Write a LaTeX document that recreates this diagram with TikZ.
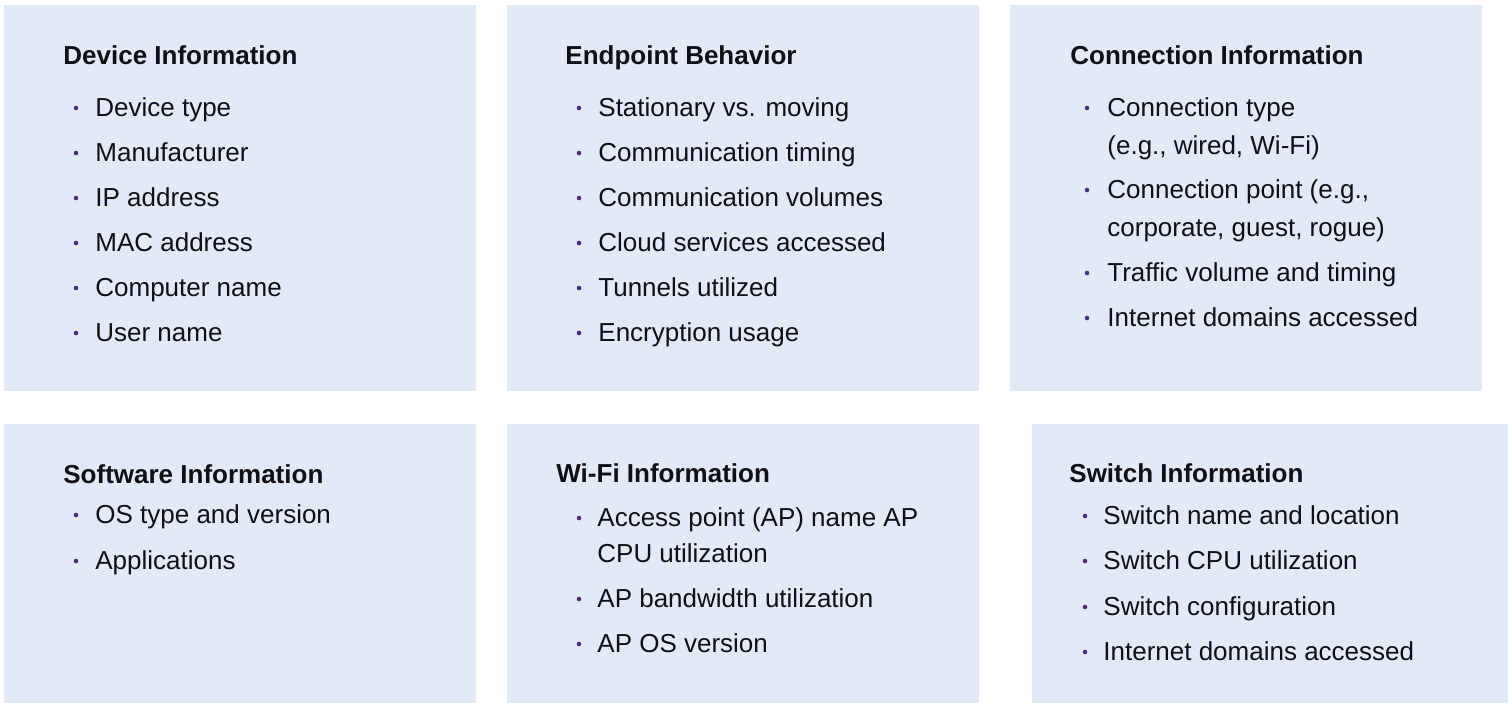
\documentclass[tikz,border=0pt]{standalone}
\usepackage{fontspec}
\setmainfont{Liberation Sans}

\definecolor{panelbg}{RGB}{227,234,247}
\definecolor{dotc}{RGB}{75,46,131}
\definecolor{textc}{RGB}{15,15,20}

\tikzset{
  panel/.style={fill=panelbg},
  head/.style={anchor=base west, inner sep=0pt, text=textc,
    font=\bfseries\fontsize{13}{16}\selectfont},
  item/.style={anchor=base west, inner sep=0pt, text=textc,
    font=\fontsize{13}{16}\selectfont},
  dot/.style={fill=dotc}
}

\begin{document}
\begin{tikzpicture}[x=0.5pt,y=-0.5pt]
            \useasboundingbox (0,0) rectangle (1508,703);
            %panels
            \fill[panel] (4,5) rectangle (476,391);
            \fill[panel] (507,5) rectangle (979,391);
            \fill[panel] (1010,5) rectangle (1482,391);
            \fill[panel] (4,424) rectangle (476,703);
            \fill[panel] (507,424) rectangle (979,703);
            \fill[panel] (1032,424) rectangle (1508,703);

            %device
            \node[head] (devhead) at (63,64) {Device Information};
            \foreach \yy/\txt [count=\i] in {116/Device type,161/Manufacturer,
                206/IP address,251/MAC address,296/Computer name,341/User name}{
                \fill[dot] (76,\yy-8) circle (2.3);
                \node[item] (dev\i) at (95,\yy) {\txt};
            }

            %endpoint
            \node[head] (endhead) at (565,64) {Endpoint Behavior};
            \foreach \yy/\txt [count=\i] in {116/Stationary vs. moving,161/Communication timing,
                206/Communication volumes,251/Cloud services accessed,296/Tunnels utilized,
                341/Encryption usage}{
                \fill[dot] (579,\yy-8) circle (2.3);
                \node[item] (end\i) at (598,\yy) {\txt};
            }

            %connection
            \node[head] (conhead) at (1070,64) {Connection Information};
            \foreach \yy/\txt [count=\i] in {116/Connection type,198/{Connection point (e.g.,},
                281/Traffic volume and timing,326/Internet domains accessed}{
                \fill[dot] (1087,\yy-8) circle (2.3);
                \node[item] (con\i) at (1107,\yy) {\txt};
            }
            \node[item] (con1b) at (1107,154) {(e.g., wired, Wi-Fi)};
            \node[item] (con2b) at (1107,236) {corporate, guest, rogue)};

            %software
            \node[head] (swhead) at (63,483) {Software Information};
            \foreach \yy/\txt [count=\i] in {523/OS type and version,569/Applications}{
                \fill[dot] (76,\yy-8) circle (2.3);
                \node[item] (sw\i) at (95,\yy) {\txt};
            }

            %wifi
            \node[head] (wifihead) at (556,482) {Wi-Fi Information};
            \foreach \yy/\txt [count=\i] in {526/Access point (AP) name AP,
                607/AP bandwidth utilization,652/AP OS version}{
                \fill[dot] (579,\yy-8) circle (2.3);
                \node[item] (wifi\i) at (597,\yy) {\txt};
            }
            \node[item] (wifi1b) at (597,562) {CPU utilization};

            %switch
            \node[head] (swihead) at (1069,482) {Switch Information};
            \foreach \yy/\txt [count=\i] in {524/Switch name and location,569/Switch CPU utilization,
                615/Switch configuration,660/Internet domains accessed}{
                \fill[dot] (1085,\yy-8) circle (2.3);
                \node[item] (swi\i) at (1103,\yy) {\txt};
            }
        \end{tikzpicture}
\end{document}
